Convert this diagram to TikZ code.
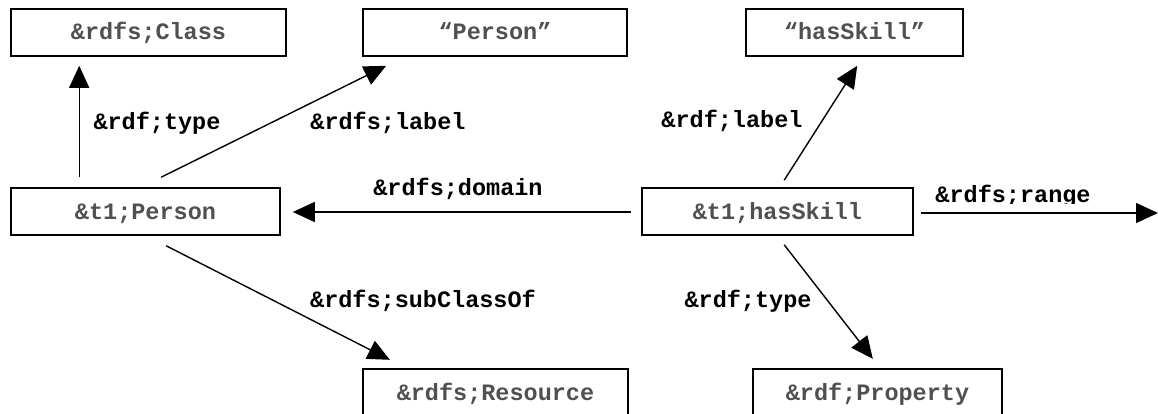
\documentclass[tikz,border=0pt]{standalone}
\usepackage{fontspec}
\setmainfont{Liberation Mono}
\usetikzlibrary{arrows.meta,calc}
\definecolor{boxtext}{HTML}{505050}
\tikzset{
  rbox/.style={draw, line width=1.6pt, inner sep=0pt, text height=15pt, text depth=0pt,
    minimum height=47pt, font=\fontsize{23.5}{26}\selectfont\bfseries, text=boxtext},
  openbox/.style={inner sep=0pt, text height=15pt, text depth=0pt,
    minimum height=47pt, font=\fontsize{23.5}{26}\selectfont\bfseries, text=boxtext},
  elabel/.style={anchor=base, inner sep=0pt, font=\fontsize{23.5}{26}\selectfont\bfseries, text=black},
  arr/.style={line width=1.4pt, -{Triangle[length=22pt,width=20pt]}},
}
\begin{document}
\begin{tikzpicture}[x=1pt,y=-1pt]
\useasboundingbox[fill=white] (0,0) rectangle (1158,414);

% resource nodes
\node[rbox, minimum width=275pt] (class)  at (148.5,32.5) {\&rdfs;Class};
\node[rbox, minimum width=264pt] (plit)   at (495,32.5)   {“Person”};
\node[rbox, minimum width=217pt] (hlit)   at (854.5,32.5) {“hasSkill”};
\node[rbox, minimum width=269pt] (person) at (145.5,211.5) {\&t1;Person};
\node[rbox, minimum width=271pt] (skill)  at (777.5,211.5) {\&t1;hasSkill};
\node[openbox, minimum width=265pt] (res)  at (495.5,392.5) {\&rdfs;Resource};
\node[openbox, minimum width=249pt] (prop) at (877.5,392.5) {\&rdf;Property};
\draw[line width=1.6pt] ([yshift=-30pt]res.south west) -- (res.north west) -- (res.north east) -- ([yshift=-30pt]res.south east);
\draw[line width=1.6pt] ([yshift=-30pt]prop.south west) -- (prop.north west) -- (prop.north east) -- ([yshift=-30pt]prop.south east);

\coordinate (rangeend) at (1158,213);

% properties
\draw[arr] ($(person.north west)+(69,-10)$) -- ($(class.south west)+(69,9)$);
\draw[arr] ($(person.north west)+(151,-10)$) -- ($(plit.south west)+(24,9)$);
\draw[arr] ($(skill.west)+(-10,0.5)$) -- ($(person.east)+(12,0.5)$);
\draw[arr] ($(skill.east)+(7,1.5)$) -- (rangeend);
\draw[arr] ($(skill.north west)+(143,-7)$) -- ($(hlit.south west)+(112,9)$);
\draw[arr] ($(person.south west)+(156,10)$) -- ($(res.north west)+(27,-9)$);
\draw[arr] ($(skill.south west)+(143,9)$) -- ($(prop.north west)+(120,-10)$);

% property labels
\node[elabel] (ltype1)  at (157,130)   {\&rdf;type};
\node[elabel] (llabel1) at (388,130)   {\&rdfs;label};
\node[elabel] (ldomain) at (458,196)   {\&rdfs;domain};
\begin{scope}
  \clip (900,170) rectangle (1158,203.5);
  \node[elabel] (lrange) at (1013,202) {\&rdfs;range};
\end{scope}
\node[elabel] (llabel2) at (732,128)   {\&rdf;label};
\node[elabel] (lsub)    at (423,307)   {\&rdfs;subClassOf};
\node[elabel] (ltype2)  at (748,307)   {\&rdf;type};
\end{tikzpicture}
\end{document}
